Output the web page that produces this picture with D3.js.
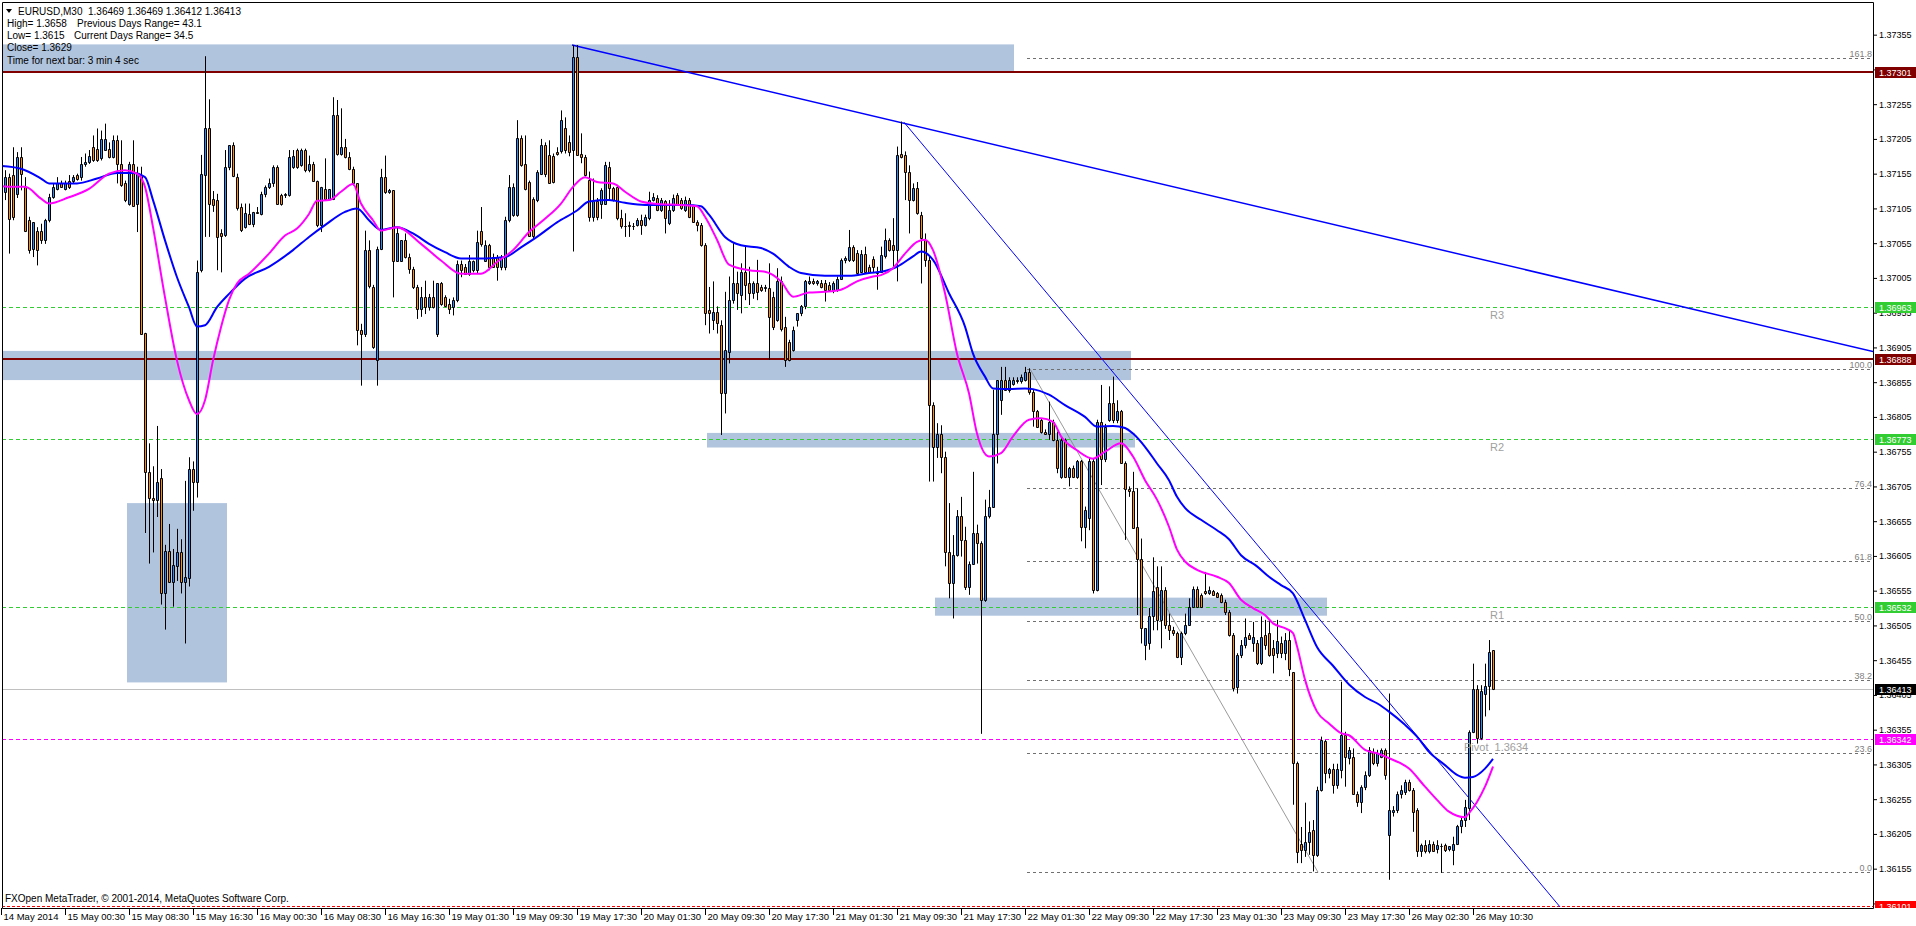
<!DOCTYPE html>
<html>
<head>
<meta charset="utf-8">
<script src="https://cdn.jsdelivr.net/npm/d3@7"></script>
<style>
  body { margin: 0; background: #fff; }
  text { font-family: "Liberation Sans", Arial, sans-serif; }
</style>
</head>
<body>
<svg id="chart"></svg>
<script>
// *********************************************
// DATA (bar values are points above BASE)
// *********************************************
var BASE = 1.36;

// EURUSD M30, one [open, high, low, close] per bar, oldest first
var bars = [
  [1112,1165,1071,1150],[1129,1160,1117,1150],[1150,1155,1040,1090],[1153,1193,1088,1093],[1126,1186,1120,1179],[1179,1193,1131,1155],[1136,1150,1071,1073],[1088,1093,1040,1045],[1047,1085,1035,1085],[1073,1078,1023,1045],
  [1073,1083,1054,1059],[1059,1090,1054,1088],[1088,1126,1085,1121],[1121,1141,1119,1136],[1133,1150,1131,1141],[1141,1145,1136,1136],[1133,1145,1131,1141],[1145,1153,1133,1136],[1145,1153,1141,1150],[1153,1155,1145,1148],
  [1150,1179,1145,1169],[1169,1184,1165,1172],[1172,1189,1169,1181],[1193,1210,1172,1174],[1191,1220,1172,1174],[1177,1217,1174,1205],[1189,1227,1189,1205],[1191,1200,1177,1179],[1179,1210,1177,1203],[1203,1210,1141,1169],
  [1169,1203,1136,1138],[1141,1145,1114,1117],[1112,1172,1109,1169],[1169,1203,1107,1109],[1112,1165,1071,1155],[1153,1165,925,925],[926,926,638,726],[726,767,594,689],[689,734,610,686],[686,792,661,711],
  [717,730,535,551],[551,621,499,612],[612,651,568,568],[567,615,532,592],[591,644,569,610],[610,629,551,567],[567,713,479,574],[573,747,561,730],[730,741,670,712],[711,1030,689,1014],
  [1016,1182,1013,1155],[1153,1324,1064,1220],[1221,1262,1064,1112],[1118,1130,1100,1110],[1117,1126,1016,1064],[1069,1075,1013,1066],[1067,1189,1064,1165],[1165,1196,1160,1196],[1196,1200,1150,1151],[1150,1155,1102,1105],
  [1107,1112,1071,1074],[1078,1112,1076,1098],[1097,1112,1081,1083],[1083,1100,1078,1100],[1100,1107,1097,1098],[1097,1129,1095,1126],[1126,1138,1121,1136],[1136,1148,1133,1141],[1141,1167,1136,1165],[1165,1167,1112,1112],
  [1124,1126,1109,1112],[1124,1127,1120,1126],[1124,1189,1122,1179],[1165,1189,1162,1181],[1189,1191,1162,1165],[1167,1191,1165,1189],[1189,1191,1157,1160],[1160,1181,1157,1169],[1169,1172,1143,1145],[1145,1145,1078,1081],
  [1081,1136,1071,1136],[1133,1177,1117,1119],[1119,1133,1117,1133],[1119,1265,1117,1240],[1240,1261,1181,1184],[1184,1249,1181,1193],[1193,1205,1177,1179],[1179,1186,1160,1162],[1162,1165,1138,1141],[1141,1141,908,930],
  [930,939,850,925],[925,1073,920,1045],[1045,1059,990,993],[992,995,903,906],[887,1050,850,1047],[1047,1162,1045,1150],[1150,1181,1126,1129],[1129,1133,1126,1131],[1131,1131,977,1030],[1030,1078,1028,1069],
  [1030,1059,1028,1059],[1059,1069,1033,1035],[1035,1040,1011,1018],[1018,1021,989,992],[992,995,946,961],[961,992,949,977],[977,1001,953,963],[963,982,958,977],[977,1001,961,963],[925,997,920,997],
  [997,999,965,968],[977,980,963,965],[968,975,953,961],[963,977,951,973],[973,1030,970,1025],[1025,1030,1006,1016],[1021,1025,1010,1011],[1011,1038,1008,1030],[1016,1030,1013,1030],[1016,1073,1011,1057],
  [1073,1107,1050,1054],[1030,1059,1028,1052],[1052,1054,1016,1021],[1035,1040,1021,1021],[1035,1038,1001,1021],[1021,1038,1016,1035],[1021,1093,1016,1088],[1088,1153,1085,1136],[1095,1141,1093,1136],[1096,1232,1093,1206],
  [1206,1210,1165,1167],[1169,1210,1131,1133],[1143,1145,1064,1066],[1119,1121,1061,1066],[1117,1160,1114,1157],[1155,1205,1153,1196],[1196,1200,1150,1155],[1182,1203,1141,1141],[1181,1184,1141,1143],[1186,1193,1181,1184],
  [1187,1246,1184,1232],[1221,1236,1184,1189],[1200,1210,1180,1186],[1189,1340,1043,1323],[1323,1340,1182,1182],[1184,1213,1170,1179],[1179,1182,1151,1153],[1146,1158,1086,1093],[1093,1148,1086,1115],[1115,1120,1088,1093],
  [1112,1134,1090,1132],[1112,1172,1110,1167],[1165,1172,1117,1134],[1134,1136,1115,1117],[1136,1139,1088,1091],[1091,1103,1076,1079],[1080,1098,1064,1079],[1081,1086,1064,1079],[1079,1084,1074,1080],[1081,1091,1079,1088],
  [1089,1096,1067,1081],[1081,1096,1079,1093],[1091,1129,1088,1117],[1117,1127,1115,1122],[1120,1124,1101,1103],[1103,1120,1100,1117],[1115,1117,1069,1091],[1084,1117,1081,1103],[1103,1125,1100,1120],[1124,1127,1110,1112],
  [1117,1120,1103,1105],[1103,1122,1100,1117],[1117,1120,1091,1093],[1108,1110,1084,1086],[1086,1088,1072,1081],[1081,1084,1050,1052],[1052,1055,937,954],[959,992,925,954],[944,1000,930,956],[956,964,925,940],
  [937,944,779,839],[839,985,810,901],[899,1007,882,973],[973,1055,968,997],[997,1014,959,983],[980,1026,954,1014],[1014,1050,973,995],[997,1021,966,983],[983,1000,975,997],[997,1031,973,985],
  [992,995,985,988],[990,995,985,992],[990,1026,887,949],[978,985,930,935],[944,1019,942,1000],[1000,1007,928,932],[935,949,877,887],[913,916,885,887],[901,935,899,930],[944,954,935,954],
  [954,966,950,964],[964,1002,960,1000],[997,1007,995,1000],[1000,1004,995,997],[997,1002,994,1000],[997,1002,990,992],[997,1002,971,988],[995,999,985,988],[988,1000,983,997],[988,1007,985,1004],
  [1004,1033,1002,1031],[1031,1036,1026,1033],[1031,1074,1028,1050],[1050,1052,1028,1031],[1041,1045,1010,1012],[1014,1045,1012,1040],[1040,1050,1012,1014],[1021,1024,1012,1014],[1032,1036,1012,1021],[1014,1021,988,1012],
  [1014,1050,1012,1038],[1036,1076,1033,1060],[1060,1062,1043,1045],[1052,1091,1021,1045],[1045,1194,1000,1182],[1184,1230,1177,1179],[1182,1187,1117,1158],[1158,1167,1069,1117],[1117,1141,1115,1134],[1134,1143,1096,1098],
  [1096,1100,997,1062],[1060,1069,1021,1031],[1031,1036,712,822],[822,826,712,762],[762,796,746,781],[781,793,724,748],[748,755,590,611],[611,681,544,566],[566,635,515,606],[606,671,604,662],
  [662,690,604,628],[628,647,556,561],[561,597,549,594],[594,726,592,638],[638,650,594,623],[623,626,349,542],[542,686,539,662],[662,700,659,676],[676,844,674,781],[781,858,738,858],
  [829,877,808,858],[858,877,843,844],[844,862,840,858],[853,862,850,858],[856,862,853,858],[856,866,853,863],[858,877,856,870],[870,875,837,841],[841,844,791,813],[813,815,789,791],
  [801,803,781,784],[784,787,779,781],[781,827,772,798],[798,801,770,772],[772,784,724,731],[719,777,716,772],[772,774,717,719],[719,733,705,731],[731,735,717,719],[719,743,716,741],
  [741,743,626,647],[647,676,616,671],[660,746,642,741],[741,746,551,556],[556,801,554,798],[798,851,707,745],[745,795,740,791],[801,849,798,825],[825,863,796,801],[801,829,796,813],
  [813,815,738,738],[738,741,628,702],[702,705,690,698],[698,726,645,645],[647,702,520,600],[600,630,479,501],[477,501,455,501],[479,530,470,518],[518,603,498,554],[561,590,498,513],
  [513,590,472,556],[556,560,500,506],[506,522,484,498],[498,503,490,494],[494,496,458,460],[460,496,448,494],[494,522,491,506],[506,544,506,532],[532,561,530,558],[558,561,530,532],
  [549,551,530,532],[554,582,549,551],[551,561,549,556],[554,556,549,549],[551,553,546,546],[549,551,537,539],[539,542,520,525],[525,527,489,491],[491,494,410,415],[417,465,407,463],
  [463,484,458,477],[477,515,472,489],[491,494,485,486],[479,510,467,489],[479,484,448,451],[451,518,448,489],[491,513,470,477],[494,513,460,463],[472,484,436,463],[465,513,458,482],
  [479,489,458,465],[465,494,455,484],[484,498,432,443],[438,438,247,307],[307,309,163,179],[191,215,163,182],[182,250,172,194],[194,223,175,208],[211,225,151,175],[175,273,172,268],
  [268,345,266,340],[338,340,278,292],[292,300,285,298],[299,306,263,275],[275,306,270,299],[297,424,285,347],[347,352,273,316],[314,330,305,326],[316,328,261,263],[263,266,244,251],
  [251,275,235,273],[273,295,268,290],[290,330,287,326],[323,328,304,307],[307,326,302,321],[316,328,314,326],[326,328,283,290],[204,407,139,240],[237,245,230,240],[239,266,235,263],
  [263,275,256,268],[266,283,261,280],[280,283,266,268],[268,271,208,237],[239,242,172,180],[180,191,172,189],[189,196,177,180],[180,196,177,191],[191,194,180,180],[184,196,177,189],
  [187,191,149,187],[189,191,179,182],[183,187,180,187],[182,201,160,191],[191,218,189,216],[216,230,206,225],[225,254,215,244],[242,354,225,352],[352,450,350,414],[414,419,335,343],
  [343,419,340,410],[407,450,374,418],[418,484,383,467],[469,469,412,413]
];

// moving averages: [bar, points]
var maSlow = [[0,1166],[5,1162],[10,1148],[12,1141],[19,1141],[24,1148],[29,1156],[33,1156],[36,1150],[38,1117],[41,1059],[44,1006],[47,963],[49,935],[51,937],[54,963],[57,982],[61,1004],[67,1021],[73,1045],[77,1064],[81,1081],[86,1100],[89,1105],[92,1088],[95,1074],[99,1078],[103,1069],[107,1054],[111,1042],[115,1033],[121,1033],[126,1035],[130,1049],[134,1064],[139,1085],[144,1102],[147,1115],[152,1117],[156,1113],[161,1110],[166,1110],[171,1110],[175,1108],[177,1096],[181,1064],[185,1052],[190,1048],[193,1040],[197,1021],[200,1012],[206,1008],[212,1008],[217,1012],[221,1015],[224,1021],[228,1036],[230,1043],[233,1031],[237,983],[241,935],[243,896],[246,863],[248,846],[252,845],[256,846],[258,845],[262,837],[266,822],[271,805],[274,791],[278,792],[281,789],[283,781],[286,762],[289,738],[292,714],[294,690],[296,674],[300,657],[304,642],[307,629],[310,606],[314,590],[317,575],[320,563],[323,551],[326,513],[329,474],[333,447],[337,420],[341,402],[344,393],[347,381],[351,362],[354,345],[357,323],[361,304],[364,290],[366,286],[368,287],[371,299],[373,313]];
var maFast = [[0,1137],[3,1136],[6,1136],[10,1119],[12,1112],[17,1121],[22,1133],[27,1155],[31,1160],[34,1155],[36,1136],[38,1078],[41,977],[44,886],[47,829],[49,809],[51,829],[53,886],[55,934],[57,973],[59,997],[62,1011],[67,1040],[71,1066],[74,1076],[77,1097],[79,1116],[82,1117],[85,1129],[88,1140],[90,1112],[93,1088],[95,1073],[99,1078],[105,1054],[110,1030],[115,1011],[120,1011],[124,1028],[128,1045],[132,1071],[136,1090],[140,1112],[143,1136],[146,1150],[149,1143],[153,1141],[156,1129],[160,1115],[165,1111],[170,1110],[174,1108],[176,1093],[179,1060],[182,1024],[187,1016],[191,1014],[195,1000],[198,978],[202,984],[206,985],[210,988],[214,1000],[218,1007],[220,1009],[223,1019],[226,1040],[229,1057],[231,1060],[233,1045],[236,983],[239,896],[242,839],[244,781],[247,748],[250,753],[253,777],[257,801],[260,803],[263,798],[265,777],[269,757],[273,745],[276,755],[280,767],[283,748],[286,714],[289,686],[292,647],[294,614],[296,597],[299,585],[304,575],[307,566],[310,542],[313,530],[316,520],[318,508],[321,501],[323,494],[324,475],[326,427],[329,381],[332,364],[335,350],[337,347],[341,326],[344,321],[347,314],[352,299],[356,273],[359,254],[362,237],[366,229],[367,235],[369,251],[371,273],[373,302]];

// time axis: one label every 16 bars
var timeTicks = [0,16,32,48,64,80,96,112,128,144,160,176,192,208,224,240,256,272,288,304,320,336,352,368];
var timeLabels = ["14 May 2014","15 May 00:30","15 May 08:30","15 May 16:30","16 May 00:30","16 May 08:30","16 May 16:30","19 May 01:30","19 May 09:30","19 May 17:30","20 May 01:30","20 May 09:30","20 May 17:30","21 May 01:30","21 May 09:30","21 May 17:30","22 May 01:30","22 May 09:30","22 May 17:30","23 May 01:30","23 May 09:30","23 May 17:30","26 May 02:30","26 May 10:30"];

var priceTicks = [1.36105,1.36155,1.36205,1.36255,1.36305,1.36355,1.36405,1.36455,1.36505,1.36555,1.36605,1.36655,1.36705,1.36755,1.36805,1.36855,1.36905,1.36955,1.37005,1.37055,1.37105,1.37155,1.37205,1.37255,1.37305,1.37355];

// supply / demand zones: bar range and price range
var zones = [
  {from: -5, to: 253.25, lo: 1.37301, hi: 1.37341},
  {from: -5, to: 282.5, lo: 1.36858, hi: 1.36900},
  {from: 176.5, to: 283.5, lo: 1.36761, hi: 1.36782},
  {from: 233.5, to: 331.5, lo: 1.36519, hi: 1.36545},
  {from: 31.5, to: 56.5, lo: 1.36423, hi: 1.36681}
];

var resistance = [1.37301, 1.36888];
var pivots = [{name: "R3", p: 1.36963}, {name: "R2", p: 1.36773}, {name: "R1", p: 1.36532}];
var pivotPrice = 1.36342;
var supportLow = 1.36101;
var bidPrice = 1.36413;

var fibLow = 1.36150, fibHigh = 1.36874, fibStart = 256.5;
var fibLevels = [0, 23.6, 38.2, 50, 61.8, 76.4, 100, 161.8];
var fibDiagonal = [[257.25, 1.36874], [329.25, 1.36150]];

var trendLines = [
  {pts: [[142.75, 1.37340], [468, 1.36899]], w: 1.5},
  {pts: [[225.75, 1.37229], [389.75, 1.36100]], w: 1}
];

var priceTags = [
  {p: 1.37301, c: "#800000"}, {p: 1.36963, c: "#32cd32"}, {p: 1.36888, c: "#800000"},
  {p: 1.36773, c: "#32cd32"}, {p: 1.36532, c: "#32cd32"}, {p: 1.36413, c: "#000000"},
  {p: 1.36342, c: "#ff00ff"}, {p: 1.36101, c: "#ff0000"}
];

var infoLines = [
  {x: 18, t: "EURUSD,M30  1.36469 1.36469 1.36412 1.36413"},
  {x: 7, t: "High= 1.3658"}, {x: 77, t: "Previous Days Range= 43.1"},
  {x: 7, t: "Low= 1.3615"}, {x: 74, t: "Current Days Range= 34.5"},
  {x: 7, t: "Close= 1.3629"},
  {x: 7, t: "Time for next bar: 3 min 4 sec"}
];
var infoRows = [14.5, 27, 27, 39, 39, 51, 63.5];

// *********************************************
// SETUP
// *********************************************
var W = 1916, H = 926;
var plotL = 2, plotT = 2, plotR = 1873, plotB = 908;

var px = v => BASE + v / 1e5;
var x = d3.scaleLinear().domain([0, 468]).range([1, 1873]);
var y = d3.scaleLinear().domain([1.36098, 1.37402]).range([908.3, 2]);
var yr = p => Math.round(y(p)) + 0.5;

var svg = d3.select("#chart").attr("width", W).attr("height", H);
svg.append("rect").attr("width", W).attr("height", H).attr("fill", "#fff");

var defs = svg.append("defs");
defs.append("clipPath").attr("id", "plot").append("rect")
    .attr("x", plotL).attr("y", plotT).attr("width", plotR - plotL).attr("height", plotB - plotT);
defs.append("clipPath").attr("id", "scale").append("rect")
    .attr("x", plotR).attr("y", 0).attr("width", W - plotR).attr("height", plotB);

var g = svg.append("g").attr("clip-path", "url(#plot)");

// zones
g.selectAll(".zone").data(zones).enter().append("rect")
    .attr("x", d => x(d.from)).attr("width", d => x(d.to) - x(d.from))
    .attr("y", d => y(d.hi)).attr("height", d => y(d.lo) - y(d.hi))
    .attr("fill", "#b0c4de");

// bid line
g.append("line").attr("x1", plotL).attr("x2", plotR)
    .attr("y1", yr(bidPrice)).attr("y2", yr(bidPrice))
    .attr("stroke", "#c0c0c0");

// pivot levels
g.selectAll(".piv").data(pivots).enter().append("line")
    .attr("x1", plotL).attr("x2", plotR)
    .attr("y1", d => yr(d.p)).attr("y2", d => yr(d.p))
    .attr("stroke", "#32cd32").attr("stroke-dasharray", "4,3");
g.append("line").attr("x1", plotL).attr("x2", plotR)
    .attr("y1", yr(pivotPrice)).attr("y2", yr(pivotPrice))
    .attr("stroke", "#ff00ff").attr("stroke-dasharray", "4,3");
g.append("line").attr("x1", plotL).attr("x2", plotR)
    .attr("y1", yr(supportLow)).attr("y2", yr(supportLow))
    .attr("stroke", "#ff0000").attr("stroke-dasharray", "3,2");

// resistance lines
g.selectAll(".res").data(resistance).enter().append("line")
    .attr("x1", plotL).attr("x2", plotR)
    .attr("y1", d => Math.round(y(d))).attr("y2", d => Math.round(y(d)))
    .attr("stroke", "#800000").attr("stroke-width", 2);

// fibonacci
var fibY = l => fibLow + (fibHigh - fibLow) * l / 100;
g.selectAll(".fib").data(fibLevels).enter().append("line")
    .attr("x1", x(fibStart)).attr("x2", plotR)
    .attr("y1", d => yr(fibY(d))).attr("y2", d => yr(fibY(d)))
    .attr("stroke", "#707070").attr("stroke-dasharray", "3,3");
g.selectAll(".fibt").data(fibLevels).enter().append("text")
    .attr("x", plotR - 1).attr("y", d => yr(fibY(d)) - 2)
    .attr("text-anchor", "end").attr("font-size", 9).attr("fill", "#808080")
    .text(d => d.toFixed(1));
g.append("line")
    .attr("x1", x(fibDiagonal[0][0])).attr("y1", y(fibDiagonal[0][1]))
    .attr("x2", x(fibDiagonal[1][0])).attr("y2", y(fibDiagonal[1][1]))
    .attr("stroke", "#808080").attr("stroke-width", 0.8);

// trend lines
g.selectAll(".trend").data(trendLines).enter().append("line")
    .attr("x1", d => x(d.pts[0][0])).attr("y1", d => y(d.pts[0][1]))
    .attr("x2", d => x(d.pts[1][0])).attr("y2", d => y(d.pts[1][1]))
    .attr("stroke", "#0000ff").attr("stroke-width", d => d.w);

// candles
var cx = i => Math.round(x(i));
var candle = g.selectAll(".bar").data(bars).enter().append("g");
candle.append("line")
    .attr("x1", (d, i) => cx(i) + 0.5).attr("x2", (d, i) => cx(i) + 0.5)
    .attr("y1", d => y(px(d[1]))).attr("y2", d => y(px(d[2])))
    .attr("stroke", "#000");
candle.append("path")
    .attr("d", function(d, i) {
      var top = Math.round(y(px(Math.max(d[0], d[3]))));
      var bot = Math.round(y(px(Math.min(d[0], d[3]))));
      return "M" + (cx(i) - 0.5) + "," + (top + 0.5) + "h2v" + (bot - top) + "h-2Z";
    })
    .attr("fill", d => d[3] >= d[0] ? "#1e90ff" : "#ff8c00")
    .attr("stroke", "#000");

// moving averages
var maLine = d3.line().x(d => x(d[0])).y(d => y(px(d[1]))).curve(d3.curveMonotoneX);
g.append("path").attr("d", maLine(maSlow)).attr("fill", "none")
    .attr("stroke", "#0000ff").attr("stroke-width", 2);
g.append("path").attr("d", maLine(maFast)).attr("fill", "none")
    .attr("stroke", "#ff00ff").attr("stroke-width", 2);

// pivot texts
g.selectAll(".pivt").data(pivots).enter().append("text")
    .attr("x", 1490).attr("y", d => yr(d.p) + 11)
    .attr("font-size", 11).attr("fill", "#a0a0a0").text(d => d.name);
g.append("text").attr("x", 1464).attr("y", yr(pivotPrice) + 11)
    .attr("font-size", 11).attr("fill", "#a0a0a0")
    .attr("xml:space", "preserve").text("Pivot  1.3634");

// info text
var info = svg.append("g").attr("font-size", 10).attr("fill", "#000");
info.append("path").attr("d", "M6,9h6l-3,4Z").attr("fill", "#000");
info.selectAll("text").data(infoLines).enter().append("text")
    .attr("x", d => d.x).attr("y", (d, i) => infoRows[i])
    .attr("xml:space", "preserve").text(d => d.t);
svg.append("text").attr("x", 5).attr("y", 902).attr("font-size", 10)
    .text("FXOpen MetaTrader, \u00a9 2001-2014, MetaQuotes Software Corp.");

// frame
svg.append("path")
    .attr("d", "M2.5,908.5V2.5H1873.5V908.5H2.5")
    .attr("fill", "none").attr("stroke", "#000");

// price axis
var scaleG = svg.append("g").attr("clip-path", "url(#scale)");
var priceAxis = scaleG.append("g").attr("transform", "translate(1873,0)")
    .call(d3.axisRight(y).tickValues(priceTicks).tickFormat(d3.format(".5f")).tickSize(4).tickPadding(2));
priceAxis.select(".domain").remove();
priceAxis.attr("font-family", "Liberation Sans, Arial, sans-serif").attr("font-size", 9);
priceAxis.selectAll("text").attr("fill", "#000");

var tags = scaleG.selectAll(".tag").data(priceTags).enter().append("g");
tags.append("rect").attr("x", 1875).attr("width", 41)
    .attr("y", d => Math.round(y(d.p)) - 5).attr("height", 11)
    .attr("fill", d => d.c);
tags.append("text").attr("x", 1879).attr("y", d => Math.round(y(d.p)) + 4)
    .attr("font-size", 9).attr("fill", "#fff")
    .text(d => d3.format(".5f")(d.p));

// time axis
var timeAxis = svg.append("g").attr("transform", "translate(0,908)")
    .call(d3.axisBottom(x).tickValues(timeTicks).tickFormat((d, i) => timeLabels[i]).tickSize(7).tickPadding(3));
timeAxis.select(".domain").remove();
timeAxis.attr("font-family", "Liberation Sans, Arial, sans-serif").attr("font-size", 9.5);
timeAxis.selectAll("text").attr("text-anchor", "start").attr("x", 2).attr("y", 5).attr("fill", "#000");
</script>
</body>
</html>
